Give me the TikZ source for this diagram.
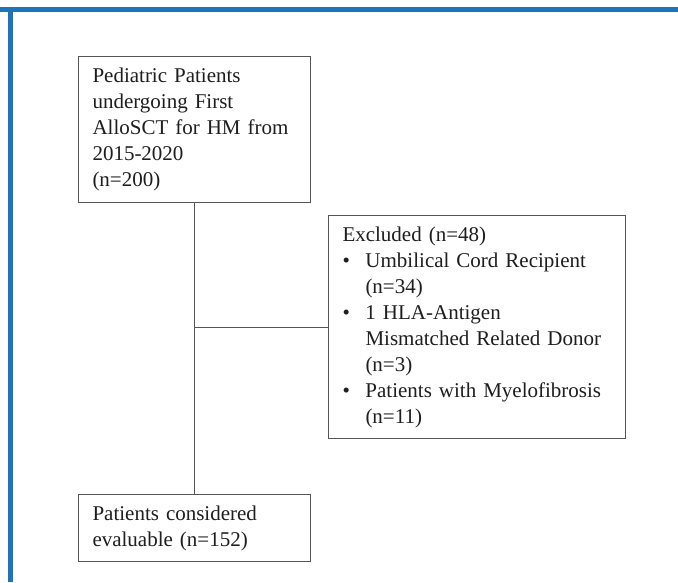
\documentclass[tikz,border=0pt]{standalone}
\usepackage{fontspec}
\setmainfont{Liberation Serif}
\definecolor{Frame}{HTML}{1B75BC}
\definecolor{BoxLine}{HTML}{555555}
\definecolor{Ink}{HTML}{1E1E1E}
\newcommand{\bul}{\makebox[23pt][l]{\textbullet}}
\newcommand{\ind}{\hspace*{23pt}}

\begin{document}
\begin{tikzpicture}[x=1pt,y=-1pt,font=\fontsize{21}{26}\selectfont,
  box/.style={draw=BoxLine,line width=1pt,align=left,anchor=north west,inner xsep=14pt,text=Ink}]
\fill[white] (0,0) rectangle (678,582);
\fill[Frame] (0,7) rectangle (678,12);\fill[Frame] (8,7) rectangle (13,582);
\node[box,minimum width=232pt,minimum height=146pt,text width=204pt] (start) at (78,56){Pediatric Patients\\undergoing First\\AlloSCT for HM from\\2015-2020\\(n=200)};
\node[box,minimum width=297pt,minimum height=223pt,text width=269pt] (excl) at (328,215){Excluded (n=48)\\\bul Umbilical Cord Recipient\\\ind(n=34)\\\bul 1 HLA-Antigen\\\ind Mismatched Related Donor\\\ind(n=3)\\\bul Patients with Myelofibrosis\\\ind(n=11)};
\node[box,minimum width=232pt,minimum height=67pt,text width=204pt] (eval) at (78,494){Patients considered\\evaluable (n=152)};
\draw[BoxLine,line width=1pt] (start.south) -- (start.south |- eval.north);
\draw[BoxLine,line width=1pt] (excl.west) -- (excl.west -| start.south);
\end{tikzpicture}
\end{document}
